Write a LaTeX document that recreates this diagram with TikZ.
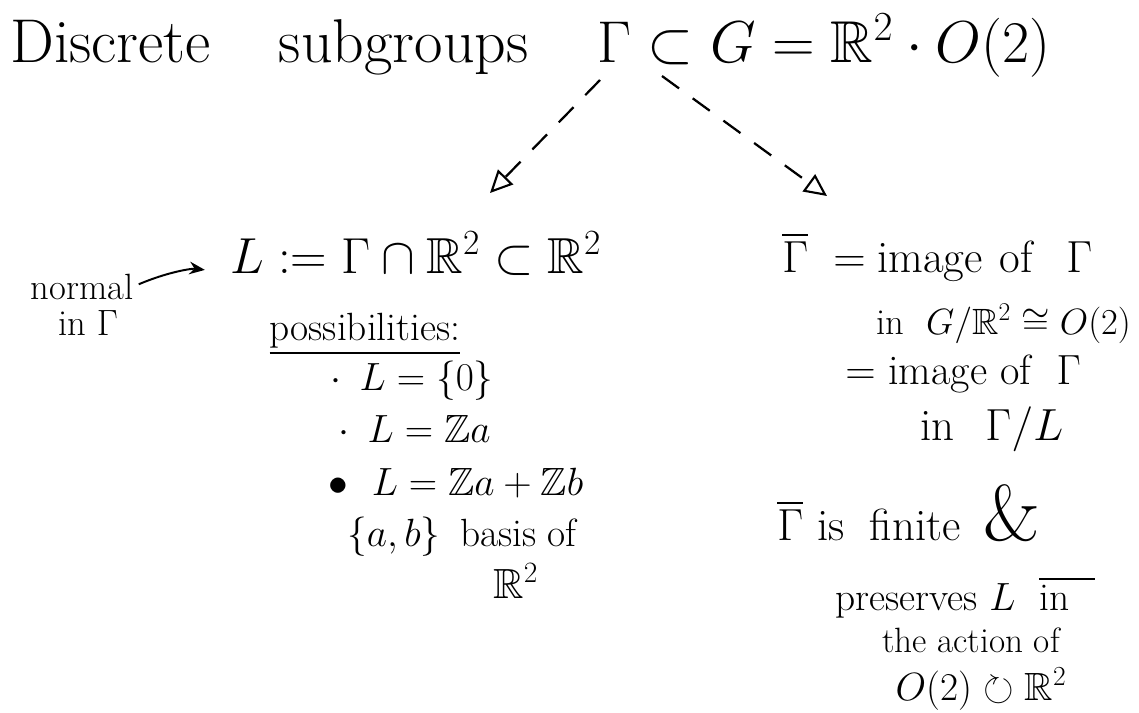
\RequirePackage{fix-cm}
\documentclass[tikz,border=0pt]{standalone}
\usepackage{amsmath}
\usepackage{amssymb}
\usepackage{tikz}
\usetikzlibrary{arrows.meta}
\tikzset{
  titletext/.style={font=\fontsize{44}{48}\selectfont, anchor=base west, inner sep=0pt},
  mainline/.style={font=\fontsize{36}{40}\selectfont, anchor=base west, inner sep=0pt},
  rightline/.style={font=\fontsize{30}{32}\selectfont, anchor=base west, inner sep=0pt},
  lowline/.style={font=\fontsize{28}{30}\selectfont, anchor=base, inner sep=0pt},
  listline/.style={font=\fontsize{28}{30}\selectfont, anchor=base west, inner sep=0pt},
  notetext/.style={font=\fontsize{26}{28}\selectfont, anchor=base, inner sep=0pt},
  dasharrow/.style={line width=1.6pt, dash pattern=on 15pt off 12pt,
    -{Triangle[open, length=16pt, width=15pt, line width=1.5pt]}},
  notearrow/.style={line width=1.4pt, -{Stealth[length=11pt, width=9pt]}}
}
\begin{document}
\begin{tikzpicture}[x=0.025cm,y=-0.025cm]
\path[use as bounding box] (0,0) rectangle (1139,712);
\fill[white] (0,0) rectangle (1139,712);

% title
\node[titletext] (title) at (10,62) {Discrete\hspace{1.1em}subgroups};
\node[titletext, font=\fontsize{42}{46}\selectfont] (group) at (597,62) {$\Gamma\subset G=\mathbb{R}^2\cdot O(2)$};
\coordinate (gamL) at (600,80);
\coordinate (gamR) at (662,76);
\coordinate (ltip) at (490,193);
\coordinate (rtip) at (827,196);

% left branch
\node[mainline] (lnode) at (230,273) {$L:=\Gamma\cap\mathbb{R}^2\subset\mathbb{R}^2$};
\node[notetext] (normal) at (82,299) {normal};
\node[notetext] (inGamma) at (88,335) {in $\Gamma$};
\node[listline, anchor=base] (poss) at (365,340) {\underline{possibilities:}};
\node[listline] (case1) at (330,390) {$\cdot\ \, L=\{0\}$};
\node[listline] (case2) at (338,442) {$\cdot\ \, L=\mathbb{Z}a$};
\node[listline] (case3) at (328,495) {$\bullet\ \ L=\mathbb{Z}a+\mathbb{Z}b$};
\node[listline] (basis) at (347,546) {$\{a,b\}$\hspace{14pt}basis\hspace{8pt}of};
\node[listline, font=\fontsize{30}{32}\selectfont] (basisR) at (493,598) {$\mathbb{R}^2$};

% right branch
\node[rightline, font=\fontsize{32}{34}\selectfont] (gbar) at (782,272) {$\overline{\Gamma}$\hspace{18pt}$=$\hspace{8pt}image\hspace{12pt}of\hspace{24pt}$\Gamma$};
\node[rightline, font=\fontsize{26}{28}\selectfont] (quot) at (876,334) {in\ \ $G/\mathbb{R}^2\cong O(2)$};
\node[rightline] (img) at (845,384) {$=$ image\ of\ \ $\Gamma$};
\node[rightline, font=\fontsize{32}{34}\selectfont] (quotL) at (920,440) {in\hspace{22pt}$\Gamma/L$};
\node[lowline, font=\fontsize{32}{34}\selectfont, anchor=base west] (fin) at (777,540) {$\overline{\Gamma}$\hspace{10pt}is\hspace{18pt}finite\hspace{16pt}{\fontsize{56}{56}\selectfont\&}};
\node[lowline] (pres) at (965,610) {preserves\ $L$\ \ $\overline{\text{in}\hspace{18pt}}$};
\node[lowline, font=\fontsize{25}{28}\selectfont] (act) at (971,652) {the action of};
\node[lowline] (orb) at (981,700) {$O(2)\circlearrowright\mathbb{R}^2$};

% connectors
\draw[dasharrow] (gamL) -- (ltip);
\draw[dasharrow] (gamR) -- (rtip);
\draw[notearrow, shorten <=4pt, shorten >=18pt] (normal.east) to[bend left=15] (lnode.base west);

\end{tikzpicture}
\end{document}
